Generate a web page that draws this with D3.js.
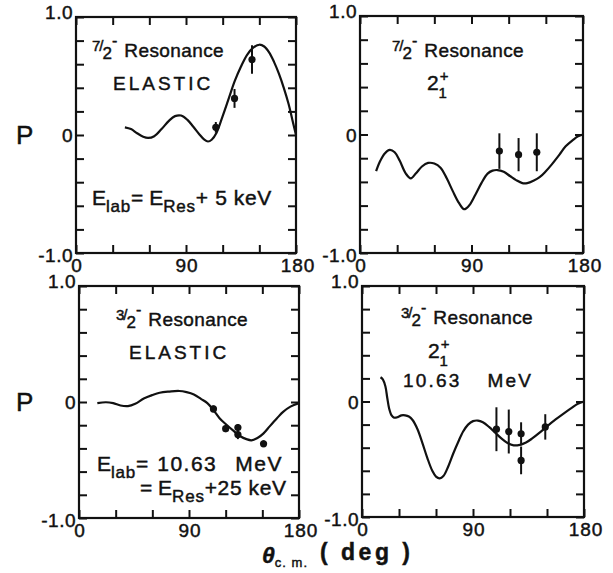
<!DOCTYPE html>
<html>
<head>
<meta charset="utf-8">
<script src="https://cdn.jsdelivr.net/npm/d3@7"></script>
<style>
  html, body { margin: 0; padding: 0; background: #fff; }
  svg { display: block; }
  text { font-family: "Liberation Sans", Arial, sans-serif; fill: #111; stroke: #111; stroke-width: 0.45px; }
</style>
</head>
<body>
<svg id="chart" width="613" height="573"></svg>
<script>
// ---------------- DATA ----------------
const xTicks = [0, 30, 60, 90, 120, 150, 180];
const xTickLabels = [0, 90, 180];
const yTicks = [-1.0, -0.8, -0.6, -0.4, -0.2, 0, 0.2, 0.4, 0.6, 0.8, 1.0];
const yTickLabels = [-1.0, 0, 1.0];

// Panel 1: 7/2- Resonance, ELASTIC  (angle, P)
const curve72Elastic = [
  [40, 0.065], [45, 0.05], [50, 0.015], [55, -0.015], [59, -0.025], [64, -0.01],
  [70, 0.05], [76, 0.12], [81, 0.16], [86, 0.165], [91, 0.13], [96, 0.07],
  [101, 0.005], [105, -0.04], [108, -0.055], [111, -0.04], [115, 0.02],
  [120, 0.16], [125, 0.31], [130, 0.46], [135, 0.58], [140, 0.68], [145, 0.74],
  [150, 0.765], [154, 0.75], [158, 0.7], [162, 0.62], [166, 0.52], [170, 0.4],
  [174, 0.26], [177, 0.13], [180, 0.0]
];
const points72Elastic = [[114.4, 0.065, 0.045], [129.7, 0.31, 0.08], [144, 0.64, 0.12]];

// Panel 2: 7/2- Resonance, 2+1
const curve72Inel = [
  [13, -0.31], [16, -0.23], [20, -0.16], [24, -0.13], [28, -0.15], [32, -0.22],
  [37, -0.33], [41, -0.37], [45, -0.33], [50, -0.27], [55, -0.24], [60, -0.245],
  [65, -0.28], [70, -0.37], [75, -0.48], [80, -0.58], [84, -0.63], [88, -0.6],
  [93, -0.51], [98, -0.41], [103, -0.33], [107, -0.305], [111, -0.3], [116, -0.315],
  [121, -0.35], [126, -0.385], [131, -0.41], [135, -0.41], [140, -0.39],
  [145, -0.36], [150, -0.31], [155, -0.25], [161, -0.17], [166, -0.1],
  [172, -0.045], [176, -0.015], [180, 0.0]
];
const points72Inel = [[112.5, -0.14, 0.15], [128, -0.17, 0.14], [142.7, -0.15, 0.16]];

// Panel 3: 3/2- Resonance, ELASTIC
const curve32Elastic = [
  [15, -0.01], [22, -0.002], [28, -0.01], [34, -0.03], [40, -0.035], [46, -0.015],
  [53, 0.03], [60, 0.06], [66, 0.08], [74, 0.09], [82, 0.095], [88, 0.085],
  [94, 0.065], [100, 0.025], [105, -0.01], [110, -0.07], [115, -0.14], [120, -0.19],
  [126, -0.245], [132, -0.295], [137, -0.32], [141, -0.33], [146, -0.31],
  [151, -0.27], [156, -0.21], [162, -0.14], [167, -0.085], [173, -0.04],
  [180, -0.01]
];
const points32Elastic = [
  [110, -0.06, 0.03], [120, -0.23, 0.03], [130, -0.22, 0.03],
  [130, -0.28, 0.04], [151, -0.36, 0.03]
];

// Panel 4: 3/2- Resonance, 2+1, 10.63 MeV
const curve32Inel = [
  [15, 0.21], [17, 0.19], [19, 0.13], [20.5, 0.03], [22, -0.06], [24, -0.12],
  [26, -0.14], [29, -0.135], [32, -0.12], [35, -0.12], [38, -0.13], [41, -0.16],
  [45, -0.24], [49, -0.36], [53, -0.49], [57, -0.6], [60, -0.65], [63, -0.665],
  [66, -0.645], [70, -0.56], [74, -0.45], [78, -0.35], [82, -0.26], [86, -0.2],
  [90, -0.17], [94, -0.165], [98, -0.18], [103, -0.22], [108, -0.27],
  [113, -0.32], [118, -0.36], [123, -0.38], [128, -0.375], [133, -0.355],
  [138, -0.32], [144, -0.27], [150, -0.215], [157, -0.155], [164, -0.1],
  [170, -0.055], [175, -0.02], [180, 0.0]
];
const points32Inel = [
  [109, -0.24, 0.19], [119, -0.26, 0.19], [129, -0.28, 0.1],
  [129, -0.51, 0.12], [148.6, -0.22, 0.11]
];

// ---------------- LAYOUT ----------------
const svg = d3.select("#chart");
const panels = [
  { box: [76, 296, 17, 253], curve: curve72Elastic, points: points72Elastic, showP: true },
  { box: [360, 583, 16, 253], curve: curve72Inel, points: points72Inel, showP: false },
  { box: [79, 299, 286, 518], curve: curve32Elastic, points: points32Elastic, showP: true },
  { box: [362, 584, 286, 517], curve: curve32Inel, points: points32Inel, showP: false }
];

const tickFont = 19;

panels.forEach((p, i) => {
  const [x0, x1, y0, y1] = p.box;
  const x = d3.scaleLinear().domain([0, 180]).range([x0, x1]);
  const y = d3.scaleLinear().domain([-1, 1]).range([y1, y0]);
  const g = svg.append("g");
  p.x = x; p.y = y; p.g = g;

  g.append("rect").attr("x", x0).attr("y", y0)
    .attr("width", x1 - x0).attr("height", y1 - y0)
    .attr("fill", "none").attr("stroke", "#111").attr("stroke-width", 2.2);

  const tl = 8;
  const styleTicks = s => { s.select(".domain").remove(); s.selectAll("line").attr("stroke", "#111").attr("stroke-width", 2); };
  g.append("g").attr("transform", `translate(0,${y1})`)
    .call(d3.axisTop(x).tickValues(xTicks).tickSize(tl).tickFormat("")).call(styleTicks);
  g.append("g").attr("transform", `translate(0,${y0})`)
    .call(d3.axisBottom(x).tickValues(xTicks).tickSize(tl).tickFormat("")).call(styleTicks);
  g.append("g").attr("transform", `translate(${x0},0)`)
    .call(d3.axisRight(y).tickValues(yTicks).tickSize(tl).tickFormat("")).call(styleTicks);
  g.append("g").attr("transform", `translate(${x1},0)`)
    .call(d3.axisLeft(y).tickValues(yTicks).tickSize(tl).tickFormat("")).call(styleTicks);

  xTickLabels.forEach(v => {
    g.append("text").attr("x", x(v) + (v === 180 ? 2 : 1)).attr("y", y1 + 19)
      .attr("text-anchor", "middle").attr("font-size", tickFont)
      .attr("letter-spacing", 1).text(v.toString());
  });
  yTickLabels.forEach(v => {
    const lab = v === 0 ? "0" : (v > 0 ? "1.0" : "-1.0");
    let yy = y(v) + 7;
    if (v === 1) yy = y(v) + 2;
    if (v === -1) yy = y(v) + 9;
    g.append("text").attr("x", x0 - 3).attr("y", yy)
      .attr("text-anchor", "end").attr("font-size", tickFont)
      .attr("letter-spacing", 0.5).text(lab);
  });

  if (p.showP) {
    g.append("text").attr("x", 16).attr("y", y(0) + 9)
      .attr("font-size", 26).text("P");
  }

  const line = d3.line().x(d => x(d[0])).y(d => y(d[1])).curve(d3.curveCatmullRom.alpha(0.5));
  g.append("path").datum(p.curve).attr("d", line)
    .attr("fill", "none").attr("stroke", "#111").attr("stroke-width", 2.2);

  const pts = g.append("g");
  pts.selectAll("line.err").data(p.points).join("line")
    .attr("x1", d => x(d[0])).attr("x2", d => x(d[0]))
    .attr("y1", d => y(d[1] + d[2])).attr("y2", d => y(d[1] - d[2]))
    .attr("stroke", "#111").attr("stroke-width", 2);
  pts.selectAll("circle").data(p.points).join("circle")
    .attr("cx", d => x(d[0])).attr("cy", d => y(d[1])).attr("r", 3.6)
    .attr("fill", "#111");
});

// ---------------- ANNOTATIONS ----------------
function resonance(g, xPos, yPos, num) {
  const t = g.append("text").attr("x", xPos).attr("y", yPos).attr("font-size", 19);
  t.append("tspan").attr("font-size", 15).attr("dy", -6).text(num);
  t.append("tspan").attr("font-size", 15).attr("dx", -1).attr("dy", 0).text("/");
  t.append("tspan").attr("font-size", 17).attr("dx", -1).attr("dy", 8).text("2");
  t.append("tspan").attr("font-size", 16).attr("dx", 0).attr("dy", -13).text("-");
  t.append("tspan").attr("dy", 11).attr("dx", 7).attr("letter-spacing", 0.4).text("Resonance");
}
function stateLabel(g, xPos, yPos) {
  const t = g.append("text").attr("x", xPos).attr("y", yPos).attr("font-size", 21);
  t.append("tspan").text("2");
  t.append("tspan").attr("font-size", 15).attr("dx", 1).attr("dy", -9).text("+");
  t.append("tspan").attr("font-size", 15).attr("dx", -10).attr("dy", 17).text("1");
}

const g1 = panels[0].g, g2 = panels[1].g, g3 = panels[2].g, g4 = panels[3].g;

// Panel 1
resonance(g1, 92, 57, "7");
g1.append("text").attr("x", 113).attr("y", 90).attr("font-size", 19)
  .attr("letter-spacing", 3).text("ELASTIC");
{
  const t = g1.append("text").attr("x", 92).attr("y", 205).attr("font-size", 21);
  t.append("tspan").text("E");
  t.append("tspan").attr("font-size", 17).attr("dy", 7).attr("letter-spacing", 0.8).text("lab");
  t.append("tspan").attr("dy", -7).text("= E");
  t.append("tspan").attr("font-size", 17).attr("dy", 7).attr("letter-spacing", 0.8).text("Res");
  t.append("tspan").attr("dy", -7).attr("letter-spacing", 0.6).text("+ 5 keV");
}

// Panel 2
resonance(g2, 392, 57, "7");
stateLabel(g2, 427, 90);

// Panel 3
resonance(g3, 116, 326, "3");
g3.append("text").attr("x", 129).attr("y", 359).attr("font-size", 19)
  .attr("letter-spacing", 3).text("ELASTIC");
{
  const t = g3.append("text").attr("x", 97).attr("y", 471).attr("font-size", 21);
  t.append("tspan").text("E");
  t.append("tspan").attr("font-size", 17).attr("dy", 7).attr("letter-spacing", 0.8).text("lab");
  t.append("tspan").attr("dy", -7).attr("letter-spacing", 1.5).text("= 10.63");
  t.append("tspan").attr("dx", 18).attr("letter-spacing", 1.5).text("MeV");
  const t2 = g3.append("text").attr("x", 140).attr("y", 495).attr("font-size", 21);
  t2.append("tspan").text("= E");
  t2.append("tspan").attr("font-size", 17).attr("dy", 7).attr("letter-spacing", 0.8).text("Res");
  t2.append("tspan").attr("dy", -7).attr("letter-spacing", 0.6).text("+25 keV");
}

// Panel 4
resonance(g4, 401, 324, "3");
stateLabel(g4, 428, 358);
{
  const t = g4.append("text").attr("x", 403).attr("y", 387).attr("font-size", 19).attr("letter-spacing", 2.2);
  t.append("tspan").text("10.63");
  t.append("tspan").attr("dx", 26).text("MeV");
}

// X axis title
{
  const t = svg.append("text").attr("x", 262).attr("y", 563).attr("font-size", 23).attr("font-weight", "bold");
  t.append("tspan").attr("font-style", "italic").text("θ");
  t.append("tspan").attr("font-size", 13).attr("font-weight", "normal").attr("dy", 4).attr("letter-spacing", 1).text("c. m.");
  t.append("tspan").attr("dy", -7).attr("dx", 12).attr("letter-spacing", 3.5).text("( deg )");
}
</script>
</body>
</html>
